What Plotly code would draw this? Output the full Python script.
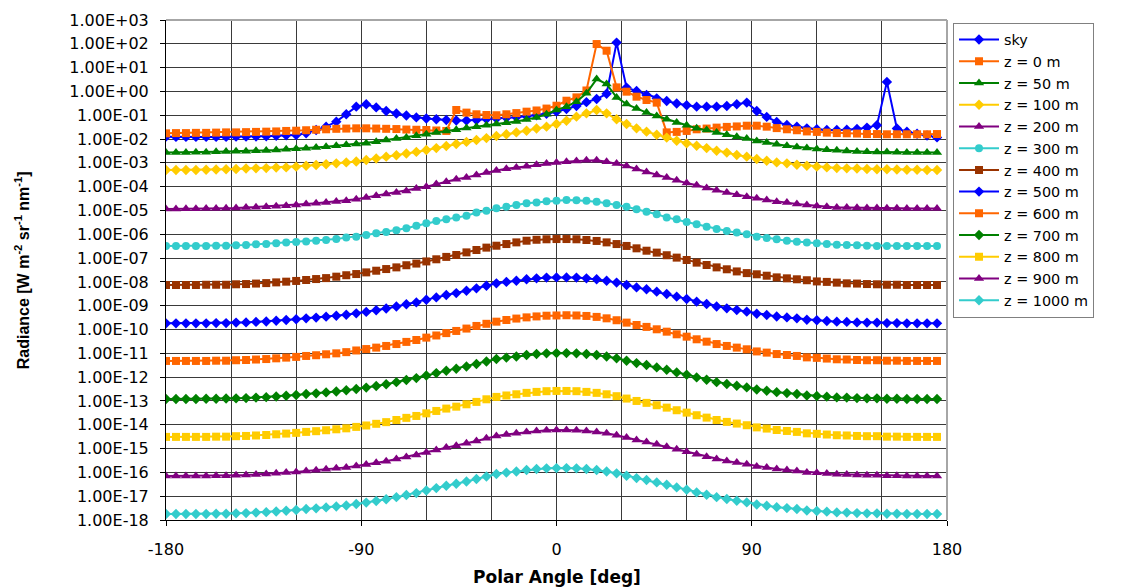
import plotly.graph_objects as go

# Polar angle of each sample (deg)
angle = [-180.0, -175.4, -170.8, -166.2, -161.5, -156.9, -152.3, -147.7, -143.1, -138.5,
         -133.8, -129.2, -124.6, -120.0, -115.4, -110.8, -106.2, -101.5, -96.9, -92.3,
         -87.7, -83.1, -78.5, -73.8, -69.2, -64.6, -60.0, -55.4, -50.8, -46.2,
         -41.5, -36.9, -32.3, -27.7, -23.1, -18.5, -13.8, -9.2, -4.6, 0.0,
         4.6, 9.2, 13.8, 18.5, 23.1, 27.7, 32.3, 36.9, 41.5, 46.2,
         50.8, 55.4, 60.0, 64.6, 69.2, 73.8, 78.5, 83.1, 87.7, 92.3,
         96.9, 101.5, 106.2, 110.8, 115.4, 120.0, 124.6, 129.2, 133.8, 138.5,
         143.1, 147.7, 152.3, 156.9, 161.5, 166.2, 170.8, 175.4]

# log10 of radiance [W m-2 sr-1 nm-1]
sky_log = [-1.90, -1.91, -1.91, -1.91, -1.91, -1.91, -1.91, -1.90, -1.90, -1.89,
           -1.88, -1.86, -1.84, -1.83, -1.76, -1.62, -1.48, -1.27, -0.96, -0.64,
           -0.54, -0.67, -0.82, -0.93, -1.01, -1.09, -1.14, -1.17, -1.20, -1.22,
           -1.22, -1.20, -1.16, -1.14, -1.11, -1.08, -1.04, -1.00, -0.94, -0.85,
           -0.74, -0.61, -0.45, -0.32, -0.10, 2.05, 0.16, 0.02, -0.15, -0.29,
           -0.40, -0.51, -0.58, -0.64, -0.64, -0.64, -0.61, -0.54, -0.47, -0.82,
           -1.07, -1.28, -1.41, -1.48, -1.55, -1.59, -1.62, -1.62, -1.61, -1.58,
           -1.52, -1.42, 0.40, -1.56, -1.69, -1.78, -1.85, -1.93]

z0_log = [-1.76, -1.75, -1.75, -1.74, -1.74, -1.73, -1.72, -1.72, -1.71, -1.70,
          -1.69, -1.68, -1.66, -1.65, -1.63, -1.61, -1.59, -1.57, -1.56, -1.55,
          -1.55, -1.56, -1.57, -1.58, -1.60, -1.61, -1.62, -1.64, -1.66, -0.78,
          -0.89, -0.96, -0.99, -1.00, -0.96, -0.91, -0.85, -0.80, -0.72, -0.60,
          -0.39, -0.25, 0.04, 1.99, 1.71, 0.17, -0.01, -0.22, -0.36, -0.47,
          -1.72, -1.70, -1.66, -1.59, -1.56, -1.52, -1.49, -1.47, -1.44, -1.44,
          -1.48, -1.54, -1.59, -1.63, -1.68, -1.70, -1.73, -1.75, -1.76, -1.77,
          -1.79, -1.79, -1.80, -1.80, -1.80, -1.80, -1.80, -1.79]

z50_log = [-2.56, -2.56, -2.56, -2.55, -2.55, -2.53, -2.52, -2.51, -2.51, -2.49,
           -2.48, -2.46, -2.43, -2.41, -2.39, -2.35, -2.32, -2.28, -2.24, -2.21,
           -2.18, -2.11, -2.04, -1.98, -1.93, -1.86, -1.80, -1.73, -1.66, -1.61,
           -1.54, -1.48, -1.42, -1.37, -1.32, -1.26, -1.18, -1.09, -0.96, -0.78,
           -0.64, -0.43, -0.08, 0.52, 0.31, -0.25, -0.53, -0.72, -0.89, -1.03,
           -1.17, -1.31, -1.42, -1.55, -1.62, -1.72, -1.82, -1.90, -1.98, -2.08,
           -2.15, -2.22, -2.28, -2.33, -2.38, -2.42, -2.45, -2.47, -2.50, -2.52,
           -2.53, -2.54, -2.54, -2.55, -2.56, -2.56, -2.56, -2.56]

z100_log = [-3.30, -3.30, -3.30, -3.30, -3.29, -3.28, -3.27, -3.26, -3.24, -3.23,
            -3.22, -3.20, -3.19, -3.16, -3.12, -3.09, -3.06, -3.02, -2.98, -2.94,
            -2.88, -2.82, -2.74, -2.68, -2.61, -2.54, -2.46, -2.38, -2.29, -2.21,
            -2.12, -2.04, -1.96, -1.87, -1.80, -1.72, -1.65, -1.56, -1.48, -1.37,
            -1.23, -1.06, -0.92, -0.78, -0.92, -1.17, -1.37, -1.55, -1.69, -1.82,
            -1.94, -2.07, -2.18, -2.28, -2.38, -2.49, -2.57, -2.67, -2.74, -2.84,
            -2.91, -2.98, -3.02, -3.08, -3.12, -3.16, -3.19, -3.22, -3.23, -3.24,
            -3.26, -3.27, -3.27, -3.28, -3.29, -3.29, -3.30, -3.30]

z200_log = [-4.94, -4.94, -4.93, -4.93, -4.92, -4.92, -4.91, -4.90, -4.88, -4.86,
            -4.84, -4.82, -4.80, -4.77, -4.73, -4.70, -4.66, -4.62, -4.59, -4.53,
            -4.45, -4.38, -4.31, -4.25, -4.18, -4.08, -4.00, -3.89, -3.79, -3.69,
            -3.61, -3.51, -3.41, -3.32, -3.25, -3.20, -3.14, -3.08, -3.03, -2.99,
            -2.95, -2.92, -2.89, -2.89, -2.95, -3.03, -3.13, -3.26, -3.38, -3.51,
            -3.62, -3.73, -3.85, -3.94, -4.06, -4.15, -4.25, -4.34, -4.42, -4.49,
            -4.56, -4.63, -4.67, -4.73, -4.77, -4.81, -4.84, -4.87, -4.88, -4.89,
            -4.90, -4.90, -4.91, -4.91, -4.92, -4.92, -4.92, -4.92]

z300_log = [-6.49, -6.49, -6.49, -6.49, -6.49, -6.48, -6.48, -6.46, -6.45, -6.42,
            -6.41, -6.38, -6.35, -6.32, -6.30, -6.27, -6.24, -6.20, -6.14, -6.10,
            -6.03, -5.96, -5.90, -5.83, -5.75, -5.64, -5.54, -5.44, -5.37, -5.30,
            -5.22, -5.09, -5.01, -4.91, -4.84, -4.77, -4.70, -4.66, -4.61, -4.59,
            -4.56, -4.57, -4.59, -4.63, -4.70, -4.77, -4.84, -4.95, -5.05, -5.16,
            -5.29, -5.37, -5.48, -5.58, -5.68, -5.78, -5.86, -5.93, -6.00, -6.10,
            -6.16, -6.21, -6.27, -6.31, -6.34, -6.38, -6.41, -6.44, -6.45, -6.46,
            -6.48, -6.49, -6.49, -6.49, -6.49, -6.49, -6.49, -6.49]

z400_log = [-8.13, -8.13, -8.13, -8.13, -8.12, -8.12, -8.12, -8.10, -8.09, -8.07,
            -8.05, -8.02, -7.99, -7.96, -7.92, -7.88, -7.84, -7.78, -7.72, -7.67,
            -7.60, -7.53, -7.46, -7.39, -7.30, -7.23, -7.14, -7.05, -6.95, -6.87,
            -6.76, -6.66, -6.56, -6.48, -6.41, -6.34, -6.27, -6.23, -6.21, -6.20,
            -6.20, -6.21, -6.24, -6.28, -6.34, -6.41, -6.49, -6.59, -6.69, -6.77,
            -6.88, -6.98, -7.08, -7.19, -7.29, -7.39, -7.47, -7.56, -7.63, -7.68,
            -7.74, -7.81, -7.85, -7.89, -7.93, -7.98, -8.00, -8.03, -8.06, -8.07,
            -8.09, -8.10, -8.12, -8.12, -8.13, -8.13, -8.13, -8.13]

z500_log = [-9.74, -9.74, -9.74, -9.74, -9.74, -9.73, -9.73, -9.71, -9.70, -9.68,
            -9.66, -9.63, -9.60, -9.57, -9.53, -9.50, -9.46, -9.42, -9.38, -9.32,
            -9.26, -9.19, -9.12, -9.03, -8.94, -8.86, -8.75, -8.65, -8.55, -8.47,
            -8.37, -8.27, -8.16, -8.06, -8.00, -7.95, -7.89, -7.85, -7.82, -7.81,
            -7.81, -7.82, -7.85, -7.89, -7.95, -8.03, -8.13, -8.23, -8.31, -8.41,
            -8.51, -8.62, -8.72, -8.83, -8.93, -9.03, -9.11, -9.18, -9.25, -9.34,
            -9.39, -9.45, -9.49, -9.53, -9.59, -9.61, -9.64, -9.67, -9.68, -9.70,
            -9.71, -9.71, -9.73, -9.73, -9.74, -9.74, -9.74, -9.74]

z600_log = [-11.32, -11.32, -11.32, -11.32, -11.32, -11.31, -11.31, -11.29, -11.28, -11.26,
            -11.24, -11.21, -11.18, -11.15, -11.11, -11.08, -11.04, -11.00, -10.95, -10.88,
            -10.82, -10.76, -10.69, -10.61, -10.52, -10.44, -10.34, -10.25, -10.15, -10.06,
            -9.96, -9.85, -9.76, -9.67, -9.60, -9.54, -9.49, -9.45, -9.42, -9.41,
            -9.40, -9.41, -9.43, -9.47, -9.53, -9.61, -9.71, -9.81, -9.89, -9.99,
            -10.09, -10.20, -10.30, -10.41, -10.51, -10.61, -10.69, -10.76, -10.83, -10.92,
            -10.97, -11.03, -11.07, -11.11, -11.17, -11.19, -11.22, -11.25, -11.26, -11.28,
            -11.29, -11.29, -11.31, -11.31, -11.32, -11.32, -11.32, -11.32]

z700_log = [-12.92, -12.92, -12.92, -12.92, -12.91, -12.91, -12.90, -12.89, -12.88, -12.86,
            -12.84, -12.81, -12.78, -12.75, -12.71, -12.68, -12.64, -12.60, -12.55, -12.50,
            -12.44, -12.37, -12.30, -12.21, -12.12, -12.04, -11.93, -11.83, -11.73, -11.65,
            -11.55, -11.45, -11.34, -11.24, -11.18, -11.13, -11.07, -11.03, -11.00, -10.99,
            -10.99, -11.00, -11.03, -11.07, -11.13, -11.21, -11.31, -11.41, -11.49, -11.59,
            -11.69, -11.80, -11.90, -12.01, -12.11, -12.21, -12.29, -12.36, -12.43, -12.52,
            -12.57, -12.63, -12.67, -12.71, -12.77, -12.79, -12.82, -12.85, -12.86, -12.88,
            -12.89, -12.89, -12.91, -12.91, -12.92, -12.92, -12.92, -12.92]

z800_log = [-14.51, -14.51, -14.51, -14.51, -14.51, -14.50, -14.50, -14.48, -14.47, -14.45,
            -14.43, -14.40, -14.37, -14.34, -14.30, -14.27, -14.23, -14.19, -14.15, -14.09,
            -14.03, -13.96, -13.89, -13.80, -13.71, -13.63, -13.52, -13.42, -13.32, -13.24,
            -13.14, -13.04, -12.93, -12.83, -12.77, -12.72, -12.66, -12.62, -12.59, -12.58,
            -12.58, -12.59, -12.62, -12.66, -12.72, -12.80, -12.90, -13.00, -13.08, -13.18,
            -13.28, -13.39, -13.49, -13.60, -13.70, -13.80, -13.88, -13.95, -14.02, -14.11,
            -14.16, -14.22, -14.26, -14.30, -14.36, -14.38, -14.41, -14.44, -14.45, -14.47,
            -14.48, -14.48, -14.50, -14.50, -14.51, -14.51, -14.51, -14.51]

z900_log = [-16.15, -16.15, -16.15, -16.15, -16.15, -16.14, -16.14, -16.12, -16.11, -16.09,
            -16.07, -16.04, -16.01, -15.98, -15.94, -15.91, -15.87, -15.83, -15.79, -15.73,
            -15.67, -15.60, -15.53, -15.44, -15.35, -15.27, -15.16, -15.06, -14.96, -14.88,
            -14.78, -14.68, -14.57, -14.47, -14.41, -14.36, -14.30, -14.26, -14.23, -14.22,
            -14.22, -14.23, -14.26, -14.30, -14.36, -14.44, -14.54, -14.64, -14.72, -14.82,
            -14.92, -15.03, -15.13, -15.24, -15.34, -15.44, -15.52, -15.59, -15.66, -15.75,
            -15.80, -15.86, -15.90, -15.94, -16.00, -16.02, -16.05, -16.08, -16.09, -16.11,
            -16.12, -16.12, -16.14, -16.14, -16.15, -16.15, -16.15, -16.15]

z1000_log = [-17.75, -17.75, -17.75, -17.75, -17.75, -17.74, -17.74, -17.72, -17.71, -17.69,
             -17.67, -17.64, -17.61, -17.58, -17.54, -17.51, -17.47, -17.43, -17.39, -17.33,
             -17.27, -17.20, -17.13, -17.04, -16.95, -16.87, -16.76, -16.66, -16.56, -16.48,
             -16.38, -16.28, -16.17, -16.07, -16.01, -15.96, -15.90, -15.86, -15.83, -15.82,
             -15.82, -15.83, -15.86, -15.90, -15.96, -16.04, -16.14, -16.24, -16.32, -16.42,
             -16.52, -16.63, -16.73, -16.84, -16.94, -17.04, -17.12, -17.19, -17.26, -17.35,
             -17.40, -17.46, -17.50, -17.54, -17.60, -17.62, -17.65, -17.68, -17.69, -17.71,
             -17.72, -17.72, -17.74, -17.74, -17.75, -17.75, -17.75, -17.75]

series_names = ["sky", "z = 0 m", "z = 50 m", "z = 100 m", "z = 200 m", "z = 300 m",
                "z = 400 m", "z = 500 m", "z = 600 m", "z = 700 m", "z = 800 m",
                "z = 900 m", "z = 1000 m"]
series_logs = [sky_log, z0_log, z50_log, z100_log, z200_log, z300_log, z400_log,
               z500_log, z600_log, z700_log, z800_log, z900_log, z1000_log]

x_tick_vals = [-180, -90, 0, 90, 180]
x_tick_text = ["-180", "-90", "0", "90", "180"]
y_exponents = list(range(-18, 4))
y_tick_vals = [10.0 ** k for k in y_exponents]
y_tick_text = [f"{10.0 ** k:.2E}" for k in y_exponents]

# styles
colors = ["#0000FF", "#FF6600", "#008000", "#FFCC00", "#800080", "#33CCCC",
          "#993300", "#0000FF", "#FF6600", "#008000", "#FFCC00", "#800080", "#33CCCC"]
symbols = ["diamond", "square", "triangle-up", "diamond", "triangle-up", "circle",
           "square", "diamond", "square", "diamond", "square", "triangle-up", "diamond"]
sizes = {"diamond": 8, "square": 8, "triangle-up": 9, "circle": 8}

fig = go.Figure()
for name, logs, col, sym in zip(series_names, series_logs, colors, symbols):
    fig.add_trace(go.Scatter(
        x=angle, y=[10.0 ** v for v in logs], name=name, mode="lines+markers",
        line=dict(color=col, width=2),
        marker=dict(symbol=sym, size=sizes[sym], color=col, line=dict(width=0)),
    ))

tick_font = dict(family="DejaVu Sans", size=16, color="black")
fig.update_layout(
    width=1133, height=588,
    margin=dict(l=166, r=186, t=20, b=68, pad=0),
    paper_bgcolor="white", plot_bgcolor="white",
    showlegend=True,
    legend=dict(
        x=1.0077, y=0.9946, xanchor="left", yanchor="top",
        bordercolor="#808080", borderwidth=1, bgcolor="white",
        font=dict(family="DejaVu Sans", size=14.4, color="black"),
        tracegroupgap=0, itemwidth=40,
    ),
    xaxis=dict(
        range=[-180, 180], tickmode="array", tickvals=x_tick_vals, ticktext=x_tick_text,
        showgrid=True, gridcolor="#3a3a3a", gridwidth=1,
        minor=dict(tickmode="linear", tick0=-180, dtick=30, showgrid=True,
                   gridcolor="#3a3a3a", gridwidth=1, ticks=""),
        ticks="outside", ticklen=5, tickcolor="black",
        showline=True, linecolor="black", linewidth=1,
        zeroline=False, tickfont=tick_font, ticklabelstandoff=10,
    ),
    yaxis=dict(
        type="log", range=[-18, 3], tickmode="array",
        tickvals=y_tick_vals, ticktext=y_tick_text,
        showgrid=True, gridcolor="#3a3a3a", gridwidth=1,
        ticks="outside", ticklen=5, tickcolor="black",
        showline=True, linecolor="black", linewidth=1,
        zeroline=False, tickfont=tick_font, ticklabelstandoff=8,
    ),
    annotations=[
        dict(text="Polar Angle [deg]", xref="paper", yref="paper", x=0.5, y=-0.114,
             xanchor="center", yanchor="middle", showarrow=False,
             font=dict(family="DejaVu Sans", size=17, color="black", weight="bold")),
        dict(text="Radiance [W m<sup>-2</sup> sr<sup>-1</sup> nm<sup>-1</sup>]",
             xref="paper", yref="paper", x=-0.184, y=0.5, textangle=-90,
             xanchor="center", yanchor="middle", showarrow=False,
             font=dict(family="Liberation Sans", size=16, color="black", weight="bold")),
    ],
    shapes=[
        dict(type="line", xref="paper", yref="paper", x0=0, x1=1, y0=1, y1=1,
             line=dict(color="#a6a6a6", width=2)),
        dict(type="line", xref="paper", yref="paper", x0=1, x1=1, y0=0, y1=1,
             line=dict(color="#a6a6a6", width=2)),
    ],
)

fig.write_html("out.html")
